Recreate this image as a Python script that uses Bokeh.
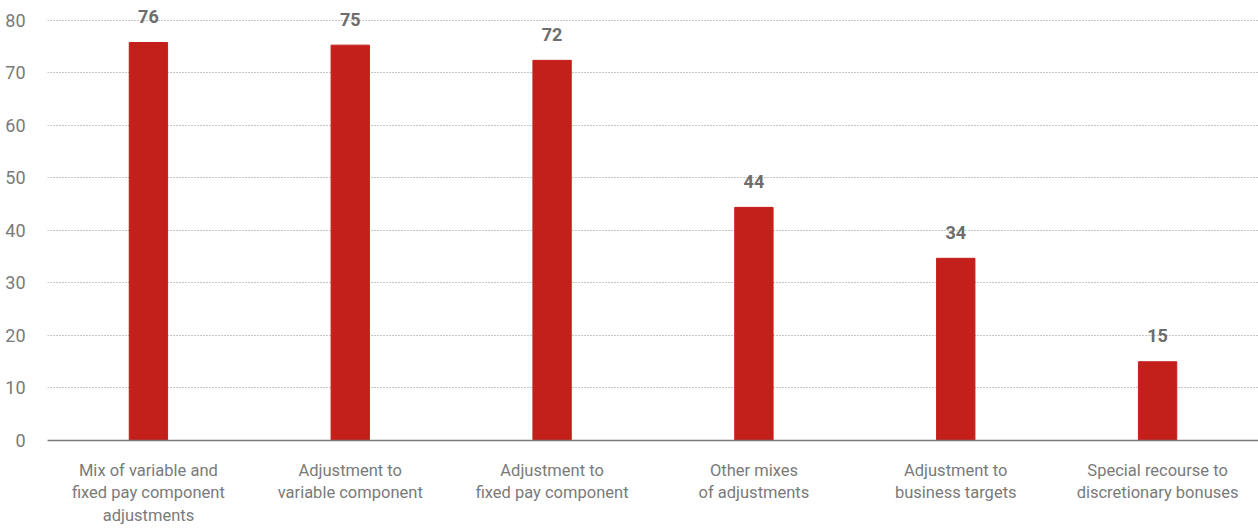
from bokeh.plotting import figure
from bokeh.models import ColumnDataSource, FixedTicker, Range1d
from bokeh.core.properties import value
from bokeh.embed import file_html
from bokeh.resources import INLINE

categories = [
    "Mix of variable and\nfixed pay component\nadjustments",
    "Adjustment to\nvariable component",
    "Adjustment to\nfixed pay component",
    "Other mixes\nof adjustments",
    "Adjustment to\nbusiness targets",
    "Special recourse to\ndiscretionary bonuses",
]
values = [75.8, 75.3, 72.4, 44.4, 34.7, 15.0]
value_labels = ["76", "75", "72", "44", "34", "15"]
y_ticks = [0, 10, 20, 30, 40, 50, 60, 70, 80]

FONT = "Roboto"

src = ColumnDataSource(dict(cat=categories, val=values, lab=value_labels))

p = figure(x_range=categories, y_range=Range1d(0, 83.8), width=1258, height=528,
           output_backend="svg", toolbar_location=None,
           min_border_left=47, min_border_right=0, min_border_top=0, min_border_bottom=86)
p.outline_line_color = None
p.background_fill_color = "white"

p.vbar(x="cat", top="val", width=0.19, source=src, color="#c4201b")
p.text(x="cat", y="val", text="lab", source=src, y_offset=-26,
       text_align="center", text_baseline="middle", text_font=value(FONT),
       text_font_style="bold", text_font_size="18px", text_color="#6d6d6d")

p.yaxis.ticker = FixedTicker(ticks=y_ticks)
p.yaxis.axis_line_color = None
p.yaxis.major_tick_line_color = None
p.yaxis.minor_tick_line_color = None
p.yaxis.major_label_text_font = FONT
p.yaxis.major_label_text_font_size = "18px"
p.yaxis.major_label_text_color = "#7a7a7a"
p.yaxis.major_label_standoff = 16

p.xaxis.axis_line_color = "#7a7a7a"
p.xaxis.axis_line_width = 1.5
p.xaxis.major_tick_line_color = None
p.xaxis.minor_tick_line_color = None
p.xaxis.major_label_text_font = FONT
p.xaxis.major_label_text_font_size = "16.5px"
p.xaxis.major_label_text_color = "#7a7a7a"
p.xaxis.major_label_standoff = 14
p.xaxis.major_label_text_line_height = 1.2

p.xgrid.grid_line_color = None
p.ygrid.ticker = FixedTicker(ticks=y_ticks[1:])
p.ygrid.grid_line_color = "#8a8a8a"
p.ygrid.grid_line_dash = "1 2"
p.ygrid.grid_line_width = 1

open("out.html", "w").write(file_html(p, INLINE))
